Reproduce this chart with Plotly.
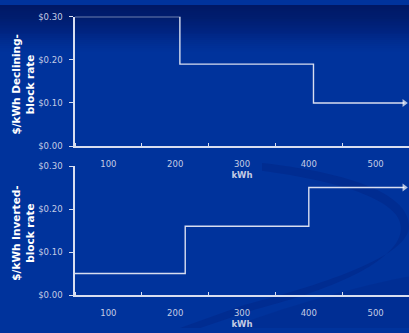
import plotly.graph_objects as go

# Data
kwh_ticks = [100, 200, 300, 400, 500]
tick_labels = ["100", "200", "300", "400", "500"]
y_ticks = [0.0, 0.10, 0.20, 0.30]
y_tick_labels = ["$0.00", "$0.10", "$0.20", "$0.30"]

declining_kwh = [50, 207, 407, 543]
declining_rate = [0.30, 0.19, 0.10, 0.10]

inverted_kwh = [50, 215, 400, 543]
inverted_rate = [0.05, 0.16, 0.25, 0.25]

W, H = 409, 333
line_col = "#d8def0"
tick_col = "#c4cce4"
font_family = "DejaVu Sans"

fig = go.Figure()


def add_series(xs, ys, xa, ya):
    sizes = [0] * (len(xs) - 1) + [7]
    fig.add_trace(go.Scatter(
        x=xs, y=ys, xaxis=xa, yaxis=ya, mode="lines+markers",
        line=dict(color=line_col, width=1.4, shape="hv"),
        marker=dict(symbol="triangle-right", size=sizes, color="#ffffff", line=dict(width=0)),
        hoverinfo="skip", showlegend=False, cliponaxis=False,
    ))


add_series(declining_kwh, declining_rate, "x", "y")
add_series(inverted_kwh, inverted_rate, "x2", "y2")

xd = [75 / W, 1.0]
top_dom = [(H - 145.5) / H, (H - 12) / H]
bot_dom = [(H - 299) / H, (H - 166) / H]

xaxis_common = dict(
    range=[50, 550], tickmode="array", tickvals=kwh_ticks, ticktext=tick_labels,
    ticks="outside", ticklen=9, tickcolor="rgba(0,0,0,0)",
    minor=dict(tick0=50, dtick=100, ticks="inside", ticklen=3, tickcolor=line_col, showgrid=False),
    showline=True, linecolor=line_col, linewidth=1.5, showgrid=False, zeroline=False,
    tickfont=dict(family=font_family, size=8.5, color=tick_col),
    domain=xd, fixedrange=True,
    title=dict(text="<b>kWh</b>", font=dict(family=font_family, size=8.5, color=tick_col), standoff=4),
)
yaxis_common = dict(
    range=[0, 0.30], tickmode="array", tickvals=y_ticks, ticktext=y_tick_labels,
    ticks="outside", ticklen=4, tickcolor=line_col, tickwidth=1.2, ticklabelstandoff=5,
    showline=True, linecolor=line_col, linewidth=1.5, showgrid=False, zeroline=False,
    tickfont=dict(family=font_family, size=8.5, color=tick_col), fixedrange=True,
)

fig.update_layout(
    width=W, height=H, margin=dict(l=0, r=0, t=0, b=0),
    paper_bgcolor="#00339c", plot_bgcolor="rgba(0,0,0,0)",
    xaxis=dict(**xaxis_common, anchor="y"),
    yaxis=dict(**yaxis_common, domain=top_dom, anchor="x"),
    xaxis2=dict(**xaxis_common, anchor="y2"),
    yaxis2=dict(**yaxis_common, domain=bot_dom, anchor="x2"),
)

# background: smooth darker top gradient and a subtle swoosh
n_bands = 24
for i in range(n_bands):
    a = 0.09 * (1 - i / n_bands) ** 0.5 + 0.0
    fig.add_shape(type="rect", xref="paper", yref="paper", x0=0, x1=1,
                  y0=1 - (i + 1) * 0.006, y1=1,
                  fillcolor=f"rgba(0,25,95,{a:.3f})", line=dict(width=0), layer="below")


def px_path(cmds):
    out = []
    for c in cmds:
        if isinstance(c, str):
            out.append(c)
        else:
            out.append(f"{c[0] / W:.4f},{1 - c[1] / H:.4f}")
    return " ".join(out)


swoosh = px_path(["M", (262, 163), "C", (340, 172), (409, 192), (409, 228),
                  "C", (409, 258), (330, 286), (245, 309), "L", (180, 333), "L", (200, 333),
                  "L", (255, 314), "C", (338, 292), (401, 262), (401, 230),
                  "C", (401, 200), (335, 181), (262, 171), "Z"])
fig.add_shape(type="path", xref="paper", yref="paper", path=swoosh,
              fillcolor="rgba(0,25,110,0.25)", line=dict(width=0), layer="below")
lower = px_path(["M", (230, 333), "C", (300, 305), (380, 285), (409, 280), "L", (409, 333), "Z"])
fig.add_shape(type="path", xref="paper", yref="paper", path=lower,
              fillcolor="rgba(0,30,115,0.18)", line=dict(width=0), layer="below")

# y axis titles
for txt, dom in [("<b>$/kWh Declining-<br>block rate</b>", top_dom),
                 ("<b>$/kWh Inverted-<br>block rate</b>", bot_dom)]:
    fig.add_annotation(text=txt, xref="paper", yref="paper", x=23 / W, y=(dom[0] + dom[1]) / 2 - 0.01,
                       textangle=-90, showarrow=False, xanchor="center", yanchor="middle",
                       font=dict(family=font_family, size=10.5, color="#ffffff"))

fig.write_html("out.html", config={"displayModeBar": False},
               post_script="document.body.style.margin='0';document.body.style.overflow='hidden';")
